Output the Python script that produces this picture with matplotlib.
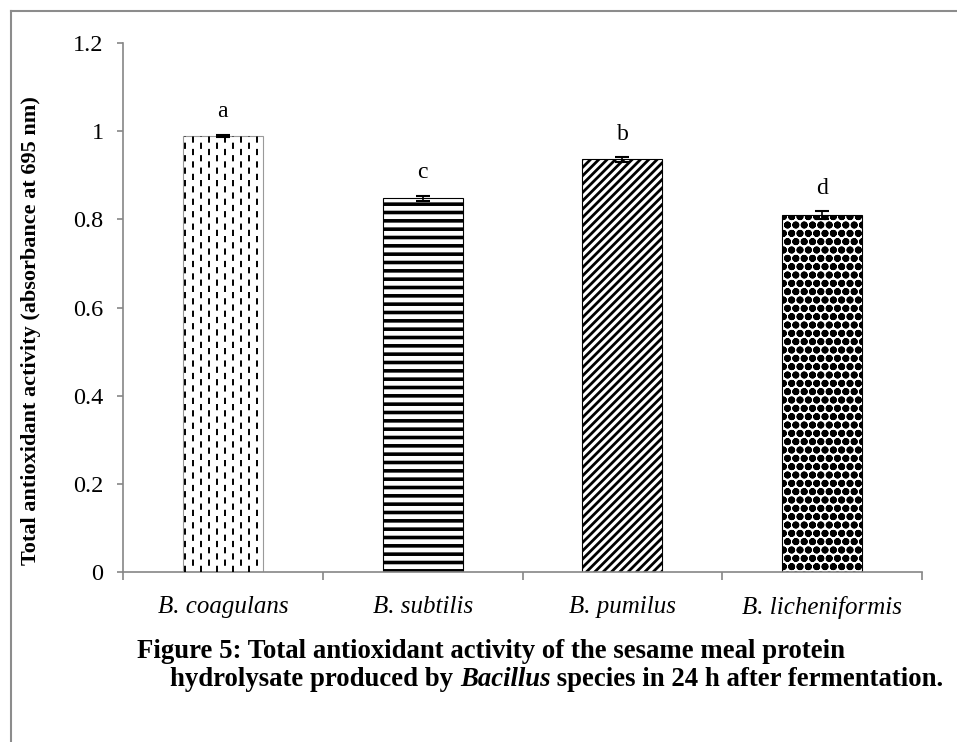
import matplotlib
matplotlib.use("Agg")
import matplotlib.pyplot as plt
import numpy as np
from matplotlib.lines import Line2D

plt.rcParams["font.family"] = ["Liberation Serif", "DejaVu Serif"]

species = ["B. coagulans", "B. subtilis", "B. pumilus", "B. licheniformis"]
activity = [0.99, 0.848, 0.936, 0.810]
errors = [0.002, 0.006, 0.005, 0.008]
letters = ["a", "c", "b", "d"]
yticks = [0, 0.2, 0.4, 0.6, 0.8, 1.0, 1.2]
ytick_labels = ["0", "0.2", "0.4", "0.6", "0.8", "1", "1.2"]

axis_gray = "#868686"

fig = plt.figure(figsize=(9.57, 7.42), dpi=100)
ax = fig.add_axes([0.1285, 0.229, 0.835, 0.713])

x = np.arange(len(species))
bars = ax.bar(x, activity, width=0.4, color="white", edgecolor="#9a9a9a",
              linewidth=0.8, zorder=2)

# fill patterns
bars[1].set_hatch("--")
bars[2].set_hatch("////")
bars[3].set_hatch("oo")
for b, lw in zip(bars, [1.0, 2.6, 2.0, 2.6]):
    if hasattr(b, "set_hatch_linewidth"):
        b.set_hatch_linewidth(lw)
    if b.get_hatch():
        b.set_edgecolor("black")

# dashed vertical pattern for the first bar
b0 = bars[0]
xs = np.arange(b0.get_x() + 0.012, b0.get_x() + b0.get_width(), 0.04)
for i, xv in enumerate(xs):
    ln = Line2D([xv, xv], [0, b0.get_height()], color="black", lw=1.4,
                linestyle=(i % 2 * 3.2, (3.2, 3.2)), zorder=3)
    ax.add_line(ln)
    ln.set_clip_path(b0)

ax.errorbar(x, activity, yerr=errors, fmt="none", ecolor="black",
            elinewidth=1.2, capsize=5, capthick=1.5, zorder=4)

for xi, v, e, lab in zip(x, activity, errors, letters):
    ax.annotate(lab, (xi, v + e), xytext=(0, 9), textcoords="offset points",
                ha="center", va="bottom", fontsize=17)

ax.set_ylim(0, 1.2)
ax.set_xlim(-0.5, len(species) - 0.5)
ax.set_yticks(yticks)
ax.set_yticklabels(ytick_labels, fontsize=17.5)
ax.set_xticks(x)
ax.set_xticklabels(species, fontsize=18, style="italic")
ax.set_xticks(np.arange(-0.5, len(species)), minor=True)
ax.tick_params(axis="x", which="major", length=0, pad=17)
ax.tick_params(axis="x", which="minor", length=6, color=axis_gray, width=1.2, direction="out")
ax.tick_params(axis="y", length=4, color=axis_gray, width=1.2, pad=10)

for s in ["top", "right"]:
    ax.spines[s].set_visible(False)
for s in ["left", "bottom"]:
    ax.spines[s].set_color(axis_gray)
    ax.spines[s].set_linewidth(1.2)

ax.set_ylabel("Total antioxidant activity (absorbance at 695 nm)",
              fontsize=16, fontweight="bold")
ax.yaxis.set_label_coords(-0.102, 0.457)

# caption
fig.text(137 / 957, 1 - 652 / 742,
         "Figure 5: Total antioxidant activity of the sesame meal protein",
         fontsize=19.3, fontweight="bold", va="center", ha="left")
renderer = fig.canvas.get_renderer()
parts = [("hydrolysate produced by ", "normal"), ("Bacillus", "italic"),
         (" species in 24 h after fermentation.", "normal")]
xpos = 170
for txt, st in parts:
    t = fig.text(xpos / 957, 1 - 680 / 742, txt, fontsize=19.3, fontweight="bold",
                 family="Liberation Serif", style=st, va="center", ha="left")
    xpos += t.get_window_extent(renderer).width

# frame lines on left and top
fig.add_artist(Line2D([11 / 957, 11 / 957], [0, 1 - 11 / 742], transform=fig.transFigure,
                      color="#8c8c8c", lw=1.5))
fig.add_artist(Line2D([11 / 957, 1], [1 - 11 / 742, 1 - 11 / 742], transform=fig.transFigure,
                      color="#8c8c8c", lw=1.5))

fig.savefig("out.png", dpi=100)
